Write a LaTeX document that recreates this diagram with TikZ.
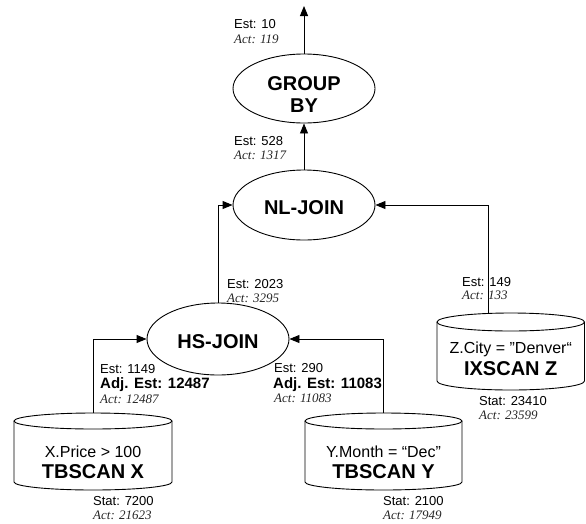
\documentclass[tikz,border=0pt]{standalone}
\usepackage{fontspec}
\setmainfont{Liberation Sans}
\newfontfamily\actfont{Liberation Serif}
\usetikzlibrary{arrows.meta,shapes.geometric}
\begin{document}
\begin{tikzpicture}[x=1pt,y=-1pt,
  lw/.style={line width=0.9pt},
  arr/.style={lw,-{Triangle[length=10pt,width=8pt]}},
  op/.style={draw,lw,ellipse,minimum width=142pt,minimum height=70pt,inner sep=0pt},
  optxt/.style={font=\fontsize{20}{22}\selectfont\bfseries,inner sep=0pt,align=center},
  lab/.style={anchor=base west,inner sep=0pt,font=\fontsize{13}{15}\selectfont},
  actlab/.style={anchor=base west,inner sep=0pt,font=\fontsize{13}{15}\selectfont\actfont\itshape,text=black!85},
  adjlab/.style={anchor=base west,inner sep=0pt,font=\fontsize{15}{17}\selectfont\bfseries},
  cond/.style={anchor=base,inner sep=0pt,font=\fontsize{16}{18}\selectfont},
  scan/.style={anchor=base,inner sep=0pt,font=\fontsize{20}{22}\selectfont\bfseries}
]
\useasboundingbox (0,0) rectangle (586,523);

% operators
\node[op,minimum height=69pt] (gb) at (304,88.5) {};
\node[optxt] (gbt) at (304,94.5) {GROUP\\BY};
\node[op] (nl) at (304,205) {};
\node[optxt,anchor=base] (nlt) at (304,214) {NL-JOIN};
\node[op,minimum height=72pt] (hs) at (218,339) {};
\node[optxt,anchor=base] (hst) at (218,348) {HS-JOIN};

% cylinders
\draw[lw] (93,421) ellipse [x radius=79pt, y radius=8pt];
\draw[lw] (14,421) -- (14,482) arc[start angle=180,end angle=360,x radius=79pt,y radius=8pt] -- (172,421);
\draw[lw] (383.5,421) ellipse [x radius=78.5pt, y radius=8pt];
\draw[lw] (305,421) -- (305,482) arc[start angle=180,end angle=360,x radius=78.5pt,y radius=8pt] -- (462,421);
\draw[lw] (510.75,322) ellipse [x radius=73.75pt, y radius=9pt];
\draw[lw] (437,322) -- (437,381) arc[start angle=180,end angle=360,x radius=73.75pt,y radius=9pt] -- (584.5,322);

\coordinate (xtop) at (93,413);
\coordinate (ytop) at (383,413);
\coordinate (ztop) at (488,313.5);
\coordinate (topend) at (304,6);

\node[cond] (xc) at (93,457) {X.Price > 100};
\node[scan] (xs) at (93,478) {TBSCAN X};
\node[cond] (yc) at (383.5,457) {Y.Month = “Dec”};
\node[scan] (ys) at (383.5,478) {TBSCAN Y};
\node[cond] (zc) at (510.75,353) {Z.City = "Denver“};
\node[scan] (zs) at (510.75,375) {IXSCAN Z};

% connectors
\draw[arr] (gb.north) -- (topend);
\draw[arr] (nl.north) -- (gb.south);
\draw[arr] (hs.north) |- (nl.west);
\draw[arr] (ztop) |- (nl.east);
\draw[arr] (xtop) |- (hs.west);
\draw[arr] (ytop) |- (hs.east);

% labels
\node[lab] (e1) at (234,28) {Est: 10};
\node[actlab] (a1) at (234,43) {Act: 119};
\node[lab] (e2) at (234,145) {Est: 528};
\node[actlab] (a2) at (234,159) {Act: 1317};
\node[lab] (e3) at (227,288) {Est: 2023};
\node[actlab] (a3) at (227,302) {Act: 3295};
\node[lab] (e4) at (100,373) {Est: 1149};
\node[adjlab] (j4) at (100,388) {Adj. Est: 12487};
\node[actlab] (a4) at (100,403) {Act: 12487};
\node[lab] (e5) at (274,372) {Est: 290};
\node[adjlab] (j5) at (273,388) {Adj. Est: 11083};
\node[actlab] (a5) at (274,402) {Act: 11083};
\node[lab] (e6) at (462,286) {Est: 149};
\node[actlab] (a6) at (462,299) {Act: 133};
\node[lab] (s1) at (93,505) {Stat: 7200};
\node[actlab] (sa1) at (93,519) {Act: 21623};
\node[lab] (s2) at (383,505) {Stat: 2100};
\node[actlab] (sa2) at (383,519) {Act: 17949};
\node[lab] (s3) at (479,405) {Stat: 23410};
\node[actlab] (sa3) at (479,419) {Act: 23599};
\end{tikzpicture}
\end{document}
